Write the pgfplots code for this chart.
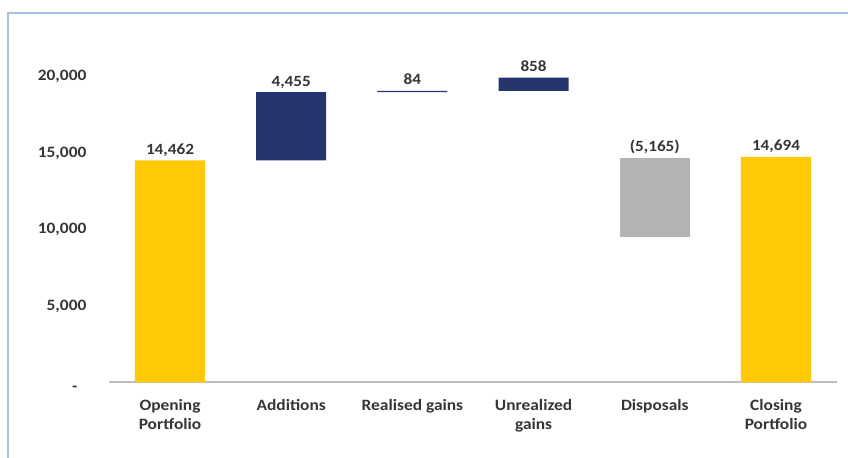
\documentclass[border=0pt]{standalone}
\usepackage{pgfplots}
\pgfplotsset{compat=1.18}
\usepackage{pgfplotstable}
\usepackage{fontspec}
\setmainfont{Carlito}
\newfontfamily\calfont[FakeStretch=1.1]{Carlito}
\definecolor{wfyellow}{HTML}{FFC907}
\definecolor{wfnavy}{HTML}{25366E}
\definecolor{wfgrey}{HTML}{B3B3B3}
\definecolor{axisgrey}{HTML}{BDBDBD}
\definecolor{framebl}{HTML}{A9C1E5}
\definecolor{txtcol}{HTML}{353535}

\pgfplotstableread{
x base open add disp
0 0 14462 0 0
1 14462 0 4455 0
2 18917 0 84 0
3 19001 0 858 0
4 9460 0 0 5165
5 0 14694 0 0
}\wfdata

\tikzset{lbl/.style={anchor=base, yshift=3pt, inner sep=0pt, font=\calfont\bfseries\fontsize{7.8}{9}\selectfont, text=txtcol}}

\begin{document}
\begin{tikzpicture}
\useasboundingbox (-54.7pt,-37.85pt) rectangle (369.3pt,191.15pt);
\draw[framebl, line width=1.1pt] (-50.7pt,-40pt) -- (-50.7pt,184.65pt) -- (372pt,184.65pt);
\begin{axis}[
  at={(0pt,0pt)}, anchor=south west,
  scale only axis,
  width=363.6pt, height=153.4pt,
  xmin=-0.5, xmax=5.5, ymin=0, ymax=20000,
  clip=false,
  ybar stacked, bar width=35pt,
  axis x line*=bottom, axis y line*=left,
  x axis line style={draw=axisgrey, line width=0.8pt},
  y axis line style={draw=none},
  scaled y ticks=false,
  xtick={0,1,2,3,4,5},
  xticklabels={{Opening\\Portfolio},{Additions},{Realised gains},{Unrealized\\gains},{Disposals},{Closing\\Portfolio}},
  typeset ticklabels with strut,
  xticklabel style={align=center, anchor=north, inner sep=0pt, yshift=-7.6pt,
    font=\calfont\bfseries\fontsize{7.9}{9.35}\selectfont, text=txtcol},
  ytick={0,5000,10000,15000,20000},
  yticklabels={{\raisebox{-2pt}{-}\kern4.5pt},{5,000},{10,000},{15,000},{20,000}},
  yticklabel style={anchor=base east, inner sep=0pt, xshift=-11.3pt, yshift=-2.5pt,
    font=\calfont\bfseries\fontsize{7.9}{9}\selectfont, text=txtcol},
  major tick length=0pt,
  tick style={draw=none},
]
\addplot[draw=none, fill=none] table[x=x, y=base] {\wfdata};
\addplot[draw=none, fill=wfyellow] table[x=x, y=open] {\wfdata};
\addplot[draw=none, fill=wfnavy] table[x=x, y=add] {\wfdata};
\addplot[draw=none, fill=wfgrey] table[x=x, y=disp] {\wfdata};

\node[lbl] at (axis cs:0,14462) {14,462};
\node[lbl] at (axis cs:1,18917) {4,455};
\node[lbl] at (axis cs:2,19001) {84};
\node[lbl] at (axis cs:3,19859) {858};
\node[lbl] at (axis cs:4,14625) {(5,165)};
\node[lbl] at (axis cs:5,14694) {14,694};
\end{axis}
\end{tikzpicture}
\end{document}
